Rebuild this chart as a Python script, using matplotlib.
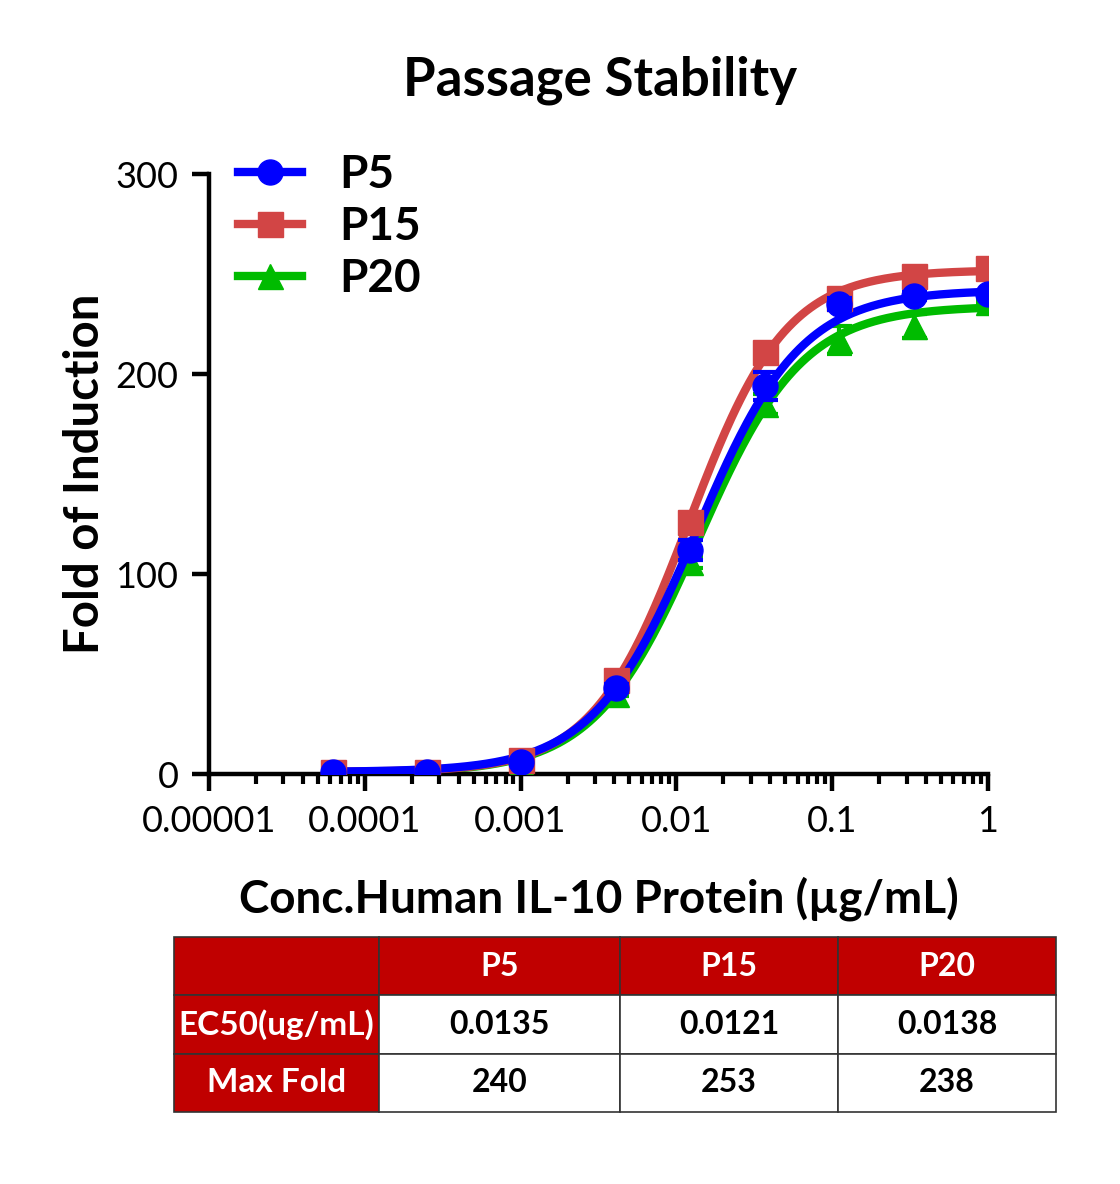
# Passage stability dose-response chart
import numpy as np
import matplotlib
matplotlib.use('Agg')
import matplotlib.pyplot as plt
from matplotlib.ticker import LogLocator, FixedLocator, NullFormatter

plt.rcParams['font.family'] = ['Lato', 'DejaVu Sans']

# data
conc = [0.0000625, 0.00025, 0.001, 0.0041, 0.0123, 0.037, 0.111, 0.333, 1.0]
p5 = [1, 1, 6, 43, 112, 194, 235, 239, 240]
p15 = [1, 1, 7, 47, 126, 211, 238, 249, 253]
p20 = [0, 1, 5, 40, 106, 185, 217, 224, 236]
p5_err = [0, 0, 0, 2, 5, 7, 3, 2, 1]
p15_err = [0, 0, 0, 2, 3, 3, 2, 2, 1]
p20_err = [0, 0, 0, 1, 3, 5, 7, 6, 1]

names = ['P5', 'P15', 'P20']
ec50 = [0.0135, 0.0121, 0.0138]
max_fold = [240, 253, 238]
# 4PL fit parameters (bottom, top, hill) estimated from the curves
bottoms = [1, 1, 0.5]
tops = [242, 252, 234]
hills = [1.3, 1.4, 1.3]

colors = ['#0000FF', '#D24545', '#00BB00']
markers = ['o', 's', '^']

fig = plt.figure(figsize=(11.2, 11.84), dpi=100)
ax = fig.add_axes([209/1120, 1-774/1184, 779/1120, 600/1184])

series = [p5, p15, p20]
errs = [p5_err, p15_err, p20_err]
xfit = np.logspace(np.log10(conc[0]), 0, 300)

# draw green first, then red, blue on top
for i in [2, 1, 0]:
    yfit = bottoms[i] + (tops[i] - bottoms[i]) / (1 + (ec50[i] / xfit) ** hills[i])
    ax.plot(xfit, yfit, color=colors[i], lw=6, zorder=2 + (2 - i), solid_capstyle='butt')
    ax.errorbar(conc, series[i], yerr=errs[i], fmt=markers[i], color=colors[i],
                ms=18, elinewidth=3, capsize=9, capthick=3, zorder=3 + (2 - i))

# legend handles
handles = []
for i in range(3):
    h, = ax.plot([], [], color=colors[i], lw=6, marker=markers[i], ms=18)
    handles.append(h)
leg = fig.legend(handles, names, loc='upper left', bbox_to_anchor=(238/1120, 1-154/1184),
                 bbox_transform=fig.transFigure, frameon=False, borderpad=0,
                 borderaxespad=0, handlelength=1.4, handletextpad=0.8,
                 labelspacing=0.22, prop={'weight': 'bold', 'size': 33})

ax.set_xscale('log')
ax.set_xlim(1e-5, 1)
ax.set_ylim(0, 300)
ax.xaxis.set_major_locator(FixedLocator([1e-5, 1e-4, 1e-3, 1e-2, 1e-1, 1]))
ax.set_xticklabels(['0.00001', '0.0001', '0.001', '0.01', '0.1', '1'])
ax.xaxis.set_minor_locator(LogLocator(base=10, subs=np.arange(2, 10), numticks=20))
ax.xaxis.set_minor_formatter(NullFormatter())
ax.set_yticks([0, 100, 200, 300])

for s in ['top', 'right']:
    ax.spines[s].set_visible(False)
for s in ['left', 'bottom']:
    ax.spines[s].set_linewidth(3.2)
ax.tick_params(axis='both', which='major', length=12, width=3.2, labelsize=26, pad=10)
ax.tick_params(axis='x', which='minor', length=7, width=3)

ax.set_ylabel('Fold of Induction', fontsize=34, fontweight='bold', labelpad=6)
ax.set_xlabel('Conc.Human IL-10 Protein (\u00b5g/mL)', fontsize=33, fontweight='bold', labelpad=28)
fig.text(600/1120, 1-80/1184, 'Passage Stability', ha='center', va='center',
         fontsize=38, fontweight='bold')

# summary table
tax = fig.add_axes([174/1120, 1-1112/1184, 882/1120, 175/1184])
tax.axis('off')
red = '#C00000'
cell_text = [['', names[0], names[1], names[2]],
             ['EC50(ug/mL)'] + [str(v) for v in ec50],
             ['Max Fold'] + [str(v) for v in max_fold]]
cell_colors = [[red] * 4, [red, 'white', 'white', 'white'], [red, 'white', 'white', 'white']]
widths = np.array([205, 241, 218, 218]) / 882
tbl = tax.table(cellText=cell_text, cellColours=cell_colors, colWidths=widths,
                cellLoc='center', bbox=[0, 0, 1, 1])
tbl.auto_set_font_size(False)
for (r, c), cell in tbl.get_celld().items():
    cell.set_edgecolor('#333333')
    cell.set_linewidth(1.2)
    txt = cell.get_text()
    txt.set_fontsize(23 if c > 0 else 24)
    txt.set_fontweight('bold')
    txt.set_color('white' if (r == 0 or c == 0) else 'black')

fig.savefig('out.png', dpi=100)
